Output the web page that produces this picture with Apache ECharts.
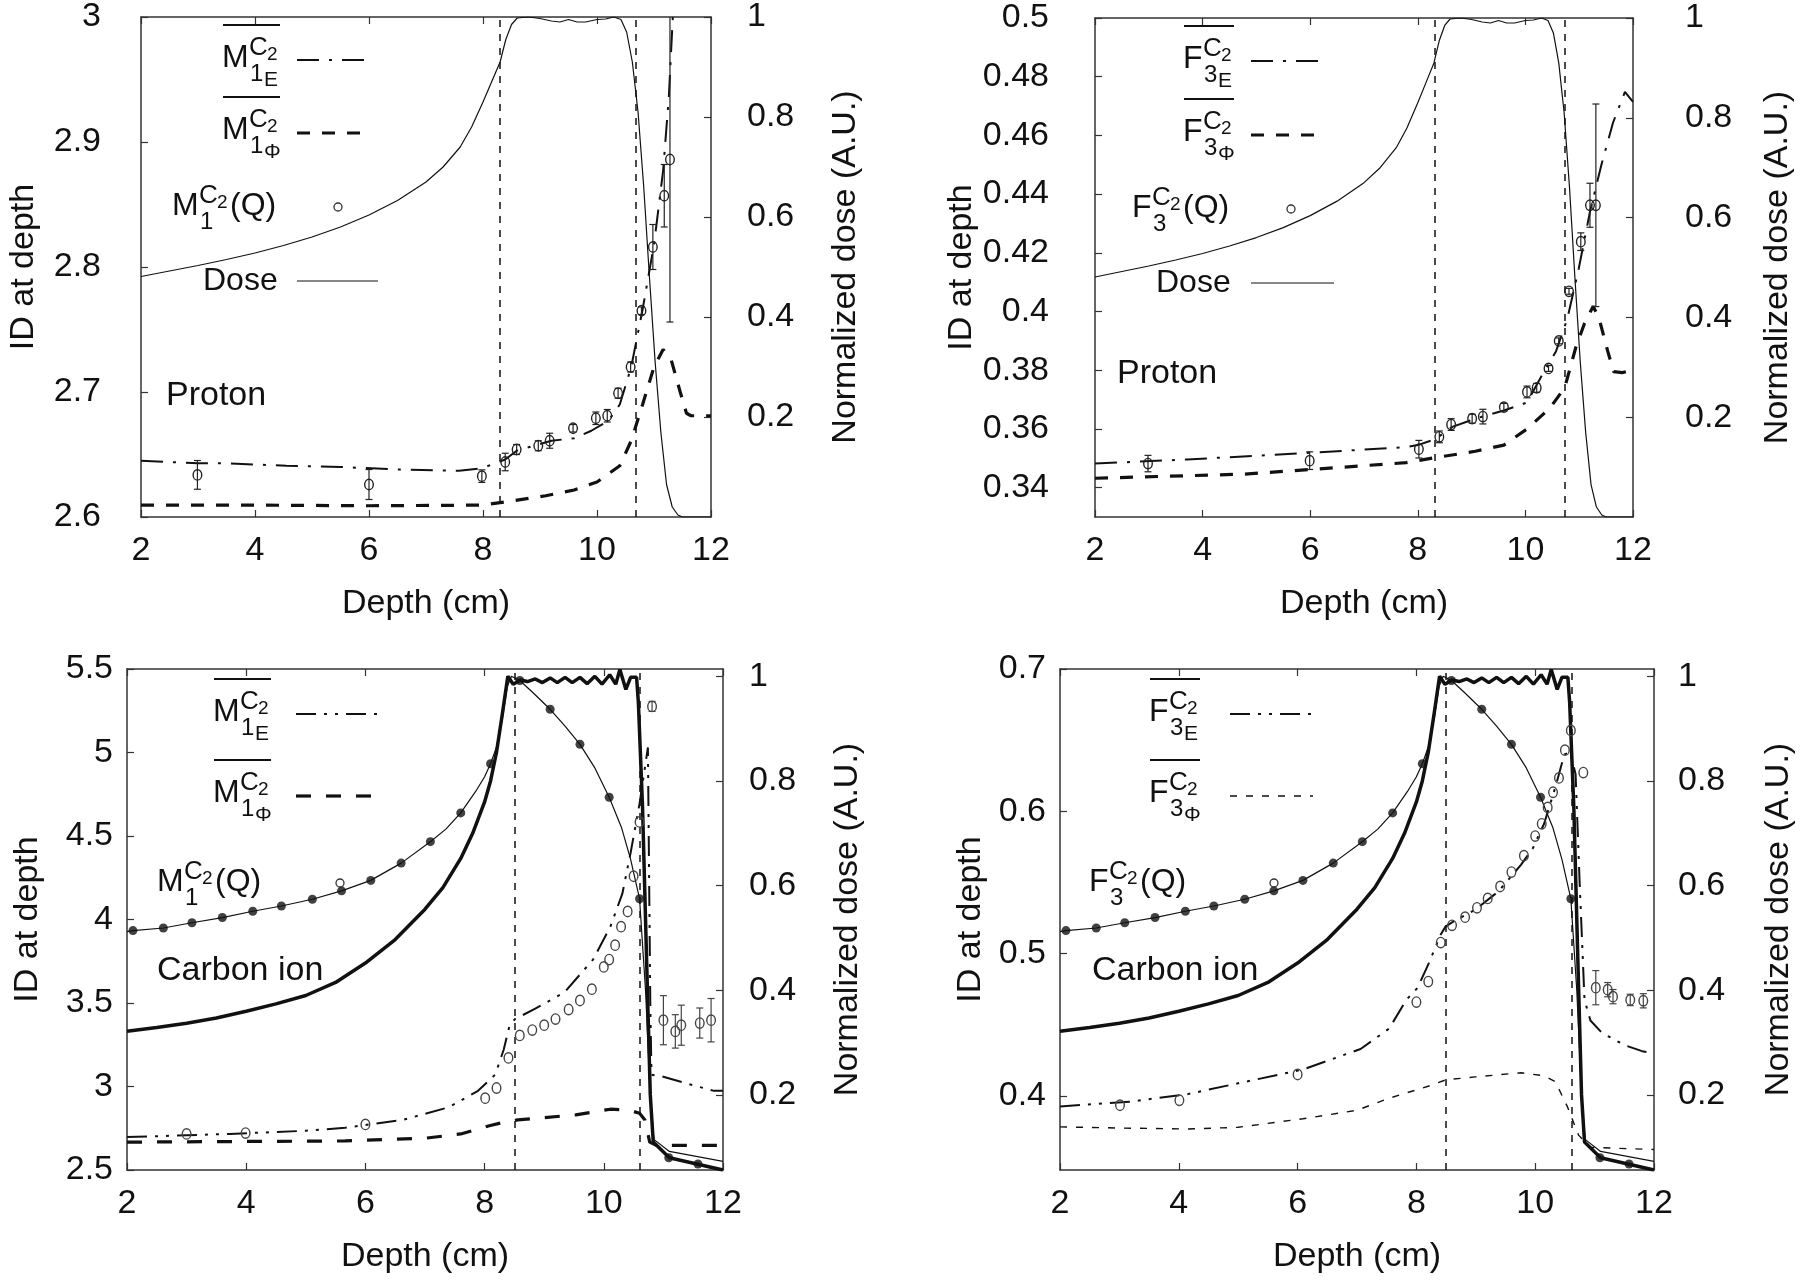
<!DOCTYPE html>
<html><head><meta charset="utf-8">
<script src="https://cdn.jsdelivr.net/npm/echarts@6/dist/echarts.min.js"></script>
<style>html,body{margin:0;padding:0;background:#fff}#c{width:1800px;height:1281px}</style>
</head><body><div id="c"></div><script>
// ---------------- data ----------------
const depthMin = 2, depthMax = 12, depthStep = 2;

// Proton dose (normalized), same beam for both top panels
const protonDose = [[2,0.481],[2.5,0.492],[3,0.503],[3.5,0.515],[4,0.528],[4.5,0.543],[5,0.56],[5.5,0.58],[6,0.604],[6.5,0.633],[7,0.67],[7.3,0.70],[7.6,0.74],[7.8,0.78],[8.0,0.83],[8.15,0.87],[8.3,0.91],[8.4,0.955],[8.5,0.985],[8.6,0.998],[8.8,1.0],[9.0,0.997],[9.2,0.992],[9.35,0.99],[9.5,0.995],[9.65,0.99],[9.8,0.99],[10.0,0.995],[10.15,0.996],[10.3,1.0],[10.42,0.995],[10.52,0.97],[10.62,0.91],[10.72,0.81],[10.82,0.66],[10.92,0.48],[11.02,0.31],[11.12,0.17],[11.22,0.065],[11.32,0.02],[11.42,0.004],[11.5,0],[12,0]];

// Carbon ion dose: thick (flat SOBP) and thin (with filled dots)
const carbonDoseThick = [[2,0.3216],[2.5,0.329],[3,0.337],[3.5,0.347],[4,0.36],[4.5,0.374],[5,0.39],[5.5,0.415],[6,0.452],[6.5,0.497],[7,0.555],[7.3,0.596],[7.6,0.652],[7.8,0.7],[8.0,0.76],[8.1,0.80],[8.2,0.855],[8.3,0.93],[8.39,1.0],[8.48,0.985],[8.6,0.993],[8.72,0.99],[8.85,0.995],[8.97,0.988],[9.1,0.997],[9.22,0.988],[9.35,0.998],[9.47,0.988],[9.6,0.998],[9.72,0.986],[9.85,1.0],[9.97,0.985],[10.1,1.003],[10.2,0.985],[10.27,1.013],[10.37,0.975],[10.45,0.998],[10.55,0.998],[10.58,0.95],[10.65,0.75],[10.72,0.45],[10.78,0.2],[10.83,0.11],[11.1,0.08],[12,0.0565]];
const carbonDoseThin = [[2,0.512],[2.1,0.514],[2.61,0.519],[3.09,0.529],[3.6,0.539],[4.11,0.551],[4.59,0.561],[5.11,0.574],[5.6,0.59],[6.09,0.61],[6.6,0.643],[7.09,0.684],[7.35,0.708],[7.6,0.739],[7.85,0.78],[8.0,0.808],[8.1,0.833],[8.2,0.865],[8.3,0.92],[8.38,0.98],[8.45,1.0],[8.59,0.992],[8.8,0.97],[9.1,0.937],[9.35,0.905],[9.6,0.87],[9.85,0.825],[10.09,0.769],[10.3,0.71],[10.45,0.65],[10.55,0.6],[10.6,0.575],[10.7,0.4],[10.78,0.2],[10.84,0.115],[11.1,0.092],[12,0.073]];
const carbonDots = [[2.1,0.514],[2.61,0.519],[3.09,0.529],[3.6,0.539],[4.11,0.551],[4.59,0.561],[5.11,0.574],[5.6,0.59],[6.09,0.61],[6.6,0.643],[7.09,0.684],[7.6,0.739],[8.1,0.833],[8.59,0.992],[9.1,0.937],[9.6,0.87],[10.09,0.769],[10.6,0.575],[11.09,0.08],[11.58,0.068]];

// Panel 1: proton, M1
const p1E = [[2,2.645],[2.5,2.644],[3,2.643],[3.5,2.643],[4,2.642],[4.55,2.641],[5.5,2.64],[6.5,2.638],[7.58,2.637],[7.98,2.639],[8.39,2.646],[8.59,2.653],[9.2,2.661],[9.6,2.663],[9.9,2.669],[10.2,2.677],[10.4,2.69],[10.6,2.72],[10.8,2.766],[11.0,2.818],[11.16,2.877],[11.26,2.936],[11.33,3.0],[11.4,3.06]];
const p1Phi = [[2,2.6095],[4,2.6095],[6,2.609],[7.98,2.6095],[8.39,2.612],[9.1,2.617],[9.6,2.6216],[10.0,2.628],[10.4,2.641],[10.6,2.661],[10.8,2.69],[11.0,2.72],[11.16,2.734],[11.3,2.726],[11.46,2.70],[11.57,2.683],[11.65,2.681],[12,2.681]];
const p1Q = [[2.99,2.6337,0.0115],[6.0,2.626,0.012],[7.98,2.6327,0.005],[8.39,2.644,0.007],[8.59,2.654,0.004],[8.97,2.657,0.004],[9.17,2.661,0.006],[9.58,2.671,0.003],[9.98,2.679,0.005],[10.18,2.681,0.005],[10.37,2.699,0.004],[10.59,2.72,0.004],[10.78,2.765,0.003],[10.98,2.816,0.018],[11.18,2.857,0.025],[11.28,2.886,0.13]];

// Panel 2: proton, F3
const p2E = [[2,0.3482],[3.71,0.3496],[5.85,0.3517],[7.78,0.3538],[8.0,0.3545],[8.32,0.3565],[8.64,0.3607],[9.07,0.3635],[9.6,0.3663],[10.03,0.369],[10.3,0.378],[10.57,0.3865],[10.78,0.3976],[10.99,0.4145],[11.2,0.434],[11.42,0.4505],[11.63,0.4644],[11.85,0.4748],[12,0.4714]];
const p2Phi = [[2,0.3432],[4.78,0.3446],[7.78,0.3485],[8.32,0.3502],[9.07,0.3524],[9.6,0.3545],[10.03,0.36],[10.45,0.367],[10.73,0.374],[10.94,0.388],[11.1,0.396],[11.26,0.4018],[11.37,0.3976],[11.53,0.3865],[11.64,0.3795],[11.8,0.3792],[12,0.38]];
const p2Q = [[2.985,0.3482,0.0028],[5.99,0.3492,0.003],[8.02,0.3531,0.003],[8.4,0.3573,0.002],[8.62,0.3615,0.002],[9.01,0.3635,0.0015],[9.21,0.3642,0.0025],[9.6,0.3674,0.0013],[10.03,0.3726,0.002],[10.21,0.374,0.0015],[10.43,0.3806,0.001],[10.62,0.39,0.001],[10.81,0.4069,0.001],[11.03,0.4238,0.003],[11.2,0.4362,0.0075],[11.31,0.4362,0.0345]];

// Panel 3: carbon ion, M1
const p3E = [[2,2.697],[3.72,2.716],[5.0,2.735],[5.66,2.753],[6.63,2.80],[7.4,2.876],[7.89,2.974],[8.18,3.072],[8.32,3.22],[8.42,3.367],[8.51,3.404],[8.85,3.466],[9.34,3.564],[9.82,3.76],[10.11,3.957],[10.31,4.153],[10.45,4.4],[10.6,4.694],[10.74,5.03],[10.78,3.5],[10.8,3.07],[10.98,3.06],[11.47,3.01],[11.85,2.974],[12,2.974]];
const p3Phi = [[2,2.667],[5.66,2.674],[7.0,2.69],[7.6,2.716],[8.08,2.765],[8.37,2.79],[8.56,2.80],[9.53,2.83],[10.11,2.864],[10.4,2.86],[10.6,2.84],[10.69,2.80],[10.77,2.667],[10.89,2.647],[12,2.647]];
const p3Q = [[3.0,2.716,0],[3.99,2.721,0],[6.0,2.773,0],[8.01,2.93,0],[8.2,2.991,0],[8.4,3.171,0],[8.59,3.306,0],[8.8,3.338,0],[9.0,3.367,0],[9.19,3.404,0],[9.41,3.461,0],[9.6,3.515,0],[9.8,3.583,0],[10.0,3.716,0],[10.09,3.76,0],[10.19,3.846,0],[10.29,3.957,0],[10.4,4.048,0],[10.5,4.259,0],[10.6,4.584,0],[10.81,5.276,0.03],[11.0,3.397,0.147],[11.2,3.33,0.1],[11.3,3.367,0.12],[11.61,3.38,0.09],[11.8,3.397,0.13]];

// Panel 4: carbon ion, F3
const p4E = [[2,0.3927],[3.18,0.396],[4.15,0.4013],[5.12,0.41],[6.09,0.4186],[7.06,0.433],[7.54,0.4473],[7.83,0.4675],[8.02,0.476],[8.21,0.4934],[8.41,0.5135],[8.49,0.519],[8.6,0.522],[8.99,0.5308],[9.38,0.5437],[9.76,0.5624],[9.96,0.574],[10.15,0.5913],[10.34,0.617],[10.49,0.64],[10.59,0.6416],[10.68,0.626],[10.75,0.548],[10.83,0.4675],[10.93,0.453],[11.12,0.4445],[11.5,0.4358],[11.8,0.4315],[12,0.43]];
const p4Phi = [[2,0.3783],[3,0.3775],[4.15,0.3768],[5,0.378],[6.09,0.384],[7,0.39],[7.54,0.3984],[8.21,0.407],[8.5,0.4114],[8.99,0.4134],[9.76,0.4163],[10.15,0.4142],[10.34,0.41],[10.54,0.3927],[10.73,0.3725],[10.93,0.3639],[12,0.3624]];
const p4Q = [[3.01,0.3935,0],[4.01,0.397,0],[6.0,0.4151,0],[8.0,0.466,0],[8.2,0.4804,0],[8.41,0.5078,0],[8.6,0.5199,0],[8.82,0.5256,0],[9.02,0.5322,0],[9.2,0.5388,0],[9.41,0.5472,0],[9.6,0.5573,0],[9.81,0.5688,0],[10.0,0.5826,0],[10.11,0.5912,0],[10.21,0.6027,0],[10.3,0.6134,0],[10.4,0.6235,0],[10.5,0.643,0],[10.6,0.6568,0],[10.81,0.6272,0],[11.02,0.4761,0.012],[11.22,0.4747,0.005],[11.31,0.4698,0.005],[11.6,0.4675,0.004],[11.82,0.4669,0.005]];

// SOBP boundaries (vertical dashed lines)
const sobpLines = [[8.3,10.68],[8.32,10.73],[8.5,10.6],[8.5,10.61]];

// axis ranges / tick labels
const leftRanges = [[2.6,3.0],[0.33,0.5],[2.5,5.5],[0.348,0.7]];
const leftTicks = [[2.6,2.7,2.8,2.9,3.0],[0.34,0.36,0.38,0.4,0.42,0.44,0.46,0.48,0.5],[2.5,3,3.5,4,4.5,5,5.5],[0.4,0.5,0.6,0.7]];
const rightRanges = [[0,1],[0,1],[0.0565,1.014],[0.0565,1.014]];
const rightTicks = [0.2,0.4,0.6,0.8,1];
const beamLabels = ['Proton','Proton','Carbon ion','Carbon ion'];

// ---------------- layout & style ----------------
const FONT = 'Liberation Sans, Arial, Helvetica, sans-serif';
const INK = '#111';
const grids = [
  {left:141, top:17, width:570, height:500},
  {left:1095, top:18, width:538, height:499},
  {left:127, top:669, width:596, height:501},
  {left:1060, top:669, width:594, height:501}
];
const leftNameGap = [100, 108, 82, 72];
const rightNameGap = [118, 128, 108, 108];
const leftLabelMargin = [40, 46, 14, 14];
const rightLabelMargin = [36, 52, 26, 24];
const DASHDOT = [22,10,3,10];
const DASHDOTDOT = [20,8,3,8,3,8];
const DASHED = [13,12];
const DASHED3 = [15,15];
const DOTTED = [7,9];
const VDASH = [7,7];

const fmt = v => String(+(+v).toFixed(3));

const xAxes = [], yAxes = [], series = [], graphics = [];
grids.forEach((g, i) => {
  const axisLine = {show:true, lineStyle:{color:'#333', width:1.5}};
  const tick = {show:true, inside:true, length:7, lineStyle:{color:'#333', width:1.2}};
  xAxes.push({gridIndex:i, type:'value', min:depthMin, max:depthMax, interval:depthStep, position:'bottom',
    name:'Depth (cm)', nameLocation:'middle', nameGap:70, nameTextStyle:{fontFamily:FONT, fontSize:34, color:INK},
    axisLine, axisTick:tick, splitLine:{show:false},
    axisLabel:{fontFamily:FONT, fontSize:34, color:INK, margin:17, formatter:fmt}});
  xAxes.push({gridIndex:i, type:'value', min:depthMin, max:depthMax, interval:depthStep, position:'top',
    axisLine, axisTick:tick, splitLine:{show:false}, axisLabel:{show:false}});
  const lr = leftRanges[i];
  yAxes.push({gridIndex:i, type:'value', min:lr[0], max:lr[1], position:'left',
    name:'ID at depth', nameLocation:'middle', nameRotate:90, nameGap:leftNameGap[i],
    nameTextStyle:{fontFamily:FONT, fontSize:34, color:INK},
    axisLine, splitLine:{show:false},
    axisTick:Object.assign({customValues:leftTicks[i]}, tick),
    axisLabel:{fontFamily:FONT, fontSize:34, color:INK, margin:leftLabelMargin[i], formatter:fmt, customValues:leftTicks[i]}});
  const rr = rightRanges[i];
  yAxes.push({gridIndex:i, type:'value', min:rr[0], max:rr[1], position:'right',
    name:'Normalized dose (A.U.)', nameLocation:'middle', nameRotate:90, nameGap:rightNameGap[i],
    nameTextStyle:{fontFamily:FONT, fontSize:34, color:INK},
    axisLine, splitLine:{show:false},
    axisTick:Object.assign({customValues:rightTicks}, tick),
    axisLabel:{fontFamily:FONT, fontSize:34, color:INK, margin:rightLabelMargin[i], formatter:fmt, customValues:rightTicks}});
});

function line(i, data, right, width, dash, z, extra) {
  return Object.assign({type:'line', xAxisIndex:2*i, yAxisIndex:2*i+(right?1:0), data,
    showSymbol:false, symbol:'none', silent:true, clip:true, z:z||2,
    lineStyle:{color:INK, width:width, type:dash||'solid'}}, extra||{});
}
function vlineMark(i) {
  return {markLine:{silent:true, symbol:['none','none'], label:{show:false},
    lineStyle:{color:INK, width:1.5, type:VDASH}, data:sobpLines[i].map(v => ({xAxis:v}))}};
}
function qSeries(i, data, color) {
  return {type:'custom', xAxisIndex:2*i, yAxisIndex:2*i, data, clip:true, silent:true, z:6,
    encode:{x:0, y:1},
    renderItem:(params, api) => {
      const x = api.value(0), y = api.value(1), e = api.value(2);
      const c = api.coord([x, y]);
      const ch = [];
      if (e > 0) {
        const t = api.coord([x, y + e]), b = api.coord([x, y - e]);
        const st = {stroke:color, lineWidth:1.2};
        ch.push({type:'line', shape:{x1:c[0], y1:t[1], x2:c[0], y2:b[1]}, style:st});
        ch.push({type:'line', shape:{x1:c[0]-3.5, y1:t[1], x2:c[0]+3.5, y2:t[1]}, style:st});
        ch.push({type:'line', shape:{x1:c[0]-3.5, y1:b[1], x2:c[0]+3.5, y2:b[1]}, style:st});
      }
      ch.push({type:'ellipse', shape:{cx:c[0], cy:c[1], rx:4.3, ry:5.2}, style:{fill:'none', stroke:color, lineWidth:1.4}});
      return {type:'group', children:ch};
    }};
}

// top panels
[0,1].forEach(i => {
  const E = i === 0 ? p1E : p2E, P = i === 0 ? p1Phi : p2Phi, Q = i === 0 ? p1Q : p2Q;
  series.push(line(i, protonDose, true, 1.2, 'solid', 1));
  series.push(line(i, E, false, 2, DASHDOT, 3, vlineMark(i)));
  series.push(line(i, P, false, 3.2, DASHED, 3));
  series.push(qSeries(i, Q, '#222'));
});
// bottom panels
[2,3].forEach(i => {
  const E = i === 2 ? p3E : p4E, P = i === 2 ? p3Phi : p4Phi, Q = i === 2 ? p3Q : p4Q;
  series.push(line(i, carbonDoseThick, true, 3.5, 'solid', 1));
  series.push(line(i, carbonDoseThin, true, 1.2, 'solid', 1));
  series.push({type:'scatter', xAxisIndex:2*i, yAxisIndex:2*i+1, data:carbonDots, symbol:'circle', symbolSize:9,
    itemStyle:{color:INK}, silent:true, z:4});
  series.push(line(i, E, false, 2, DASHDOTDOT, 3, vlineMark(i)));
  if (i === 2) series.push(line(i, P, false, 3.2, DASHED3, 3));
  else series.push(line(i, P, false, 1.4, DOTTED, 3));
  series.push(qSeries(i, Q, '#444'));
});

// ---------------- legends (graphic) ----------------
function txt(x, y, s, size, extra) {
  return Object.assign({type:'text', x, y, silent:true, z:100,
    style:{text:s, font:size + 'px ' + FONT, fill:INK, align:'left', verticalAlign:'middle', textAlign:'left', textVerticalAlign:'middle'}}, extra||{});
}
function hline(x1, x2, y, w, dash) {
  return {type:'line', silent:true, z:100, shape:{x1, y1:y, x2, y2:y}, style:{stroke:INK, lineWidth:w, lineDash:dash||null}};
}
function stacked(x0, yc, letter, idx, sub, over) {
  const d = letter === 'M' ? 0 : -7;
  const out = [txt(x0, yc, letter, 32), txt(x0+27+d, yc-10, 'C', 26), txt(x0+45+d, yc-3, '2', 19),
               txt(x0+28+d, yc+16, idx, 24)];
  if (sub) out.push(txt(x0+42+d, yc+22, sub, 21));
  if (over) out.push(hline(x0+1, x0+58+d, yc-33, 2));
  return out;
}
const legendPos = [
  {x:222, e:58, p:130, qx:172, q:206, lx1:297, lx2:372, mx:338, dose:[203,281]},
  {x:1183, e:59, p:132, qx:1132, q:208, lx1:1251, lx2:1328, mx:1291, dose:[1156,283]},
  {x:213, e:712, p:793, qx:157, q:882, lx1:296, lx2:385, mx:340},
  {x:1149, e:712, p:793, qx:1089, q:882, lx1:1230, lx2:1319, mx:1274}
];
const beamPos = [[166,396],[1117,374],[157,971],[1092,971]];
legendPos.forEach((L, i) => {
  const letter = (i % 2 === 0) ? 'M' : 'F', idx = (i % 2 === 0) ? '1' : '3';
  graphics.push(...stacked(L.x, L.e, letter, idx, 'E', true));
  graphics.push(...stacked(L.x, L.p, letter, idx, 'Φ', true));
  graphics.push(...stacked(L.qx, L.q, letter, idx, null, false));
  graphics.push(txt(L.qx + 58 + (letter === 'M' ? 0 : -7), L.q, '(Q)', 32));
  const eDash = i < 2 ? DASHDOT : DASHDOTDOT;
  graphics.push(hline(L.lx1, L.lx2, L.e + 2, 2, eDash));
  const pW = (i === 3) ? 1.4 : 3.2, pD = (i === 3) ? DOTTED : (i === 2 ? DASHED3 : DASHED);
  graphics.push(hline(L.lx1, L.lx2 - 6, L.p + 3, pW, pD));
  graphics.push({type:'circle', silent:true, z:100, shape:{cx:L.mx, cy:L.q + 1, r:4}, style:{fill:'none', stroke:'#333', lineWidth:1.3}});
  if (L.dose) {
    graphics.push(txt(L.dose[0], L.dose[1], 'Dose', 32));
    graphics.push(hline(L.lx1, L.lx2 + 6, L.dose[1], 1.2));
  }
  graphics.push(txt(beamPos[i][0], beamPos[i][1], beamLabels[i], 34));
});

const chart = echarts.init(document.getElementById('c'), null, {renderer:'canvas'});
chart.setOption({
  animation:false,
  backgroundColor:'#fff',
  grid:grids.map(g => Object.assign({show:false}, g)),
  xAxis:xAxes, yAxis:yAxes, series, graphic:{elements:graphics}
});
</script></body></html>
